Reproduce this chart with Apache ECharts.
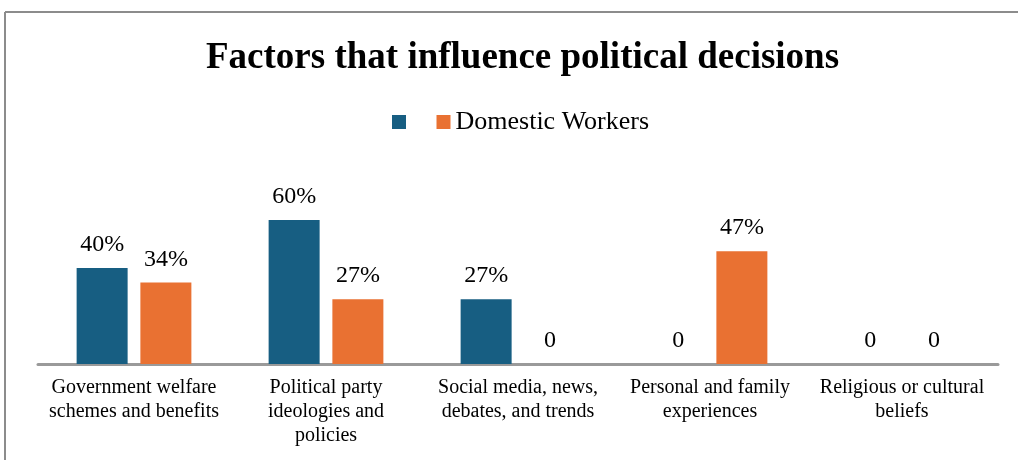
<!DOCTYPE html>
<html>
<head>
<meta charset="utf-8">
<script src="https://cdn.jsdelivr.net/npm/echarts@6/dist/echarts.min.js"></script>
<style>
html,body{margin:0;padding:0;background:#fff;}
#chart{width:1018px;height:460px;}
</style>
</head>
<body>
<div id="chart"></div>
<script>
// 类目
var categories = [
	"Government welfare\nschemes and benefits",
	"Political party\nideologies and\npolicies",
	"Social media, news,\ndebates, and trends",
	"Personal and family\nexperiences",
	"Religious or cultural\nbeliefs"
];
// 系列数据
var seriesNames = [" ", "Domestic Workers"];
var firstValues = [40, 60, 27, 0, 0];
var domesticValues = [34, 27, 0, 47, 0];
var colors = ["#175e82", "#e97132"];

var myChart = echarts.init(document.getElementById("chart"));
var serif = "'Liberation Serif', 'Times New Roman', serif";

function makeBar(name, data, color) {
	return {
		name: name,
		type: "bar",
		data: data,
		barWidth: 51,
		barGap: "25%",
		itemStyle: { color: color },
		label: {
			show: true,
			position: "top",
			distance: 11,
			fontFamily: serif,
			fontSize: 24,
			color: "#000",
			formatter: function(p) {
				return p.value == 0 ? "0" : p.value + "%";
			}
		}
	};
}

myChart.setOption({
	animation: false,
	title: {
		text: "Factors that influence political decisions",
		left: 201,
		top: 35,
		textStyle: { fontFamily: serif, fontSize: 37, fontWeight: "bold", color: "#000" }
	},
	legend: {
		data: seriesNames,
		top: 104,
		left: 387,
		itemWidth: 14,
		itemHeight: 14,
		itemGap: 19,
		icon: "rect",
		textStyle: { fontFamily: serif, fontSize: 26, color: "#000" }
	},
	graphic: [
		{ type: "line", shape: { x1: 5, y1: 12, x2: 1018, y2: 12 }, style: { stroke: "#8c8c8c", lineWidth: 2 } },
		{ type: "line", shape: { x1: 5, y1: 12, x2: 5, y2: 460 }, style: { stroke: "#8c8c8c", lineWidth: 2 } }
	],
	grid: { left: 38, right: 20, top: 196, bottom: 96 },
	xAxis: {
		type: "category",
		data: categories,
		axisTick: { show: false },
		axisLine: { lineStyle: { color: "#9a9a9a", width: 3 } },
		axisLabel: {
			interval: 0,
			margin: 12,
			fontFamily: serif,
			fontSize: 20,
			lineHeight: 24,
			color: "#000"
		}
	},
	yAxis: {
		type: "value",
		min: 0,
		max: 70,
		show: false,
		splitLine: { show: false }
	},
	series: [
		makeBar(seriesNames[0], firstValues, colors[0]),
		makeBar(seriesNames[1], domesticValues, colors[1])
	]
});
</script>
</body>
</html>
